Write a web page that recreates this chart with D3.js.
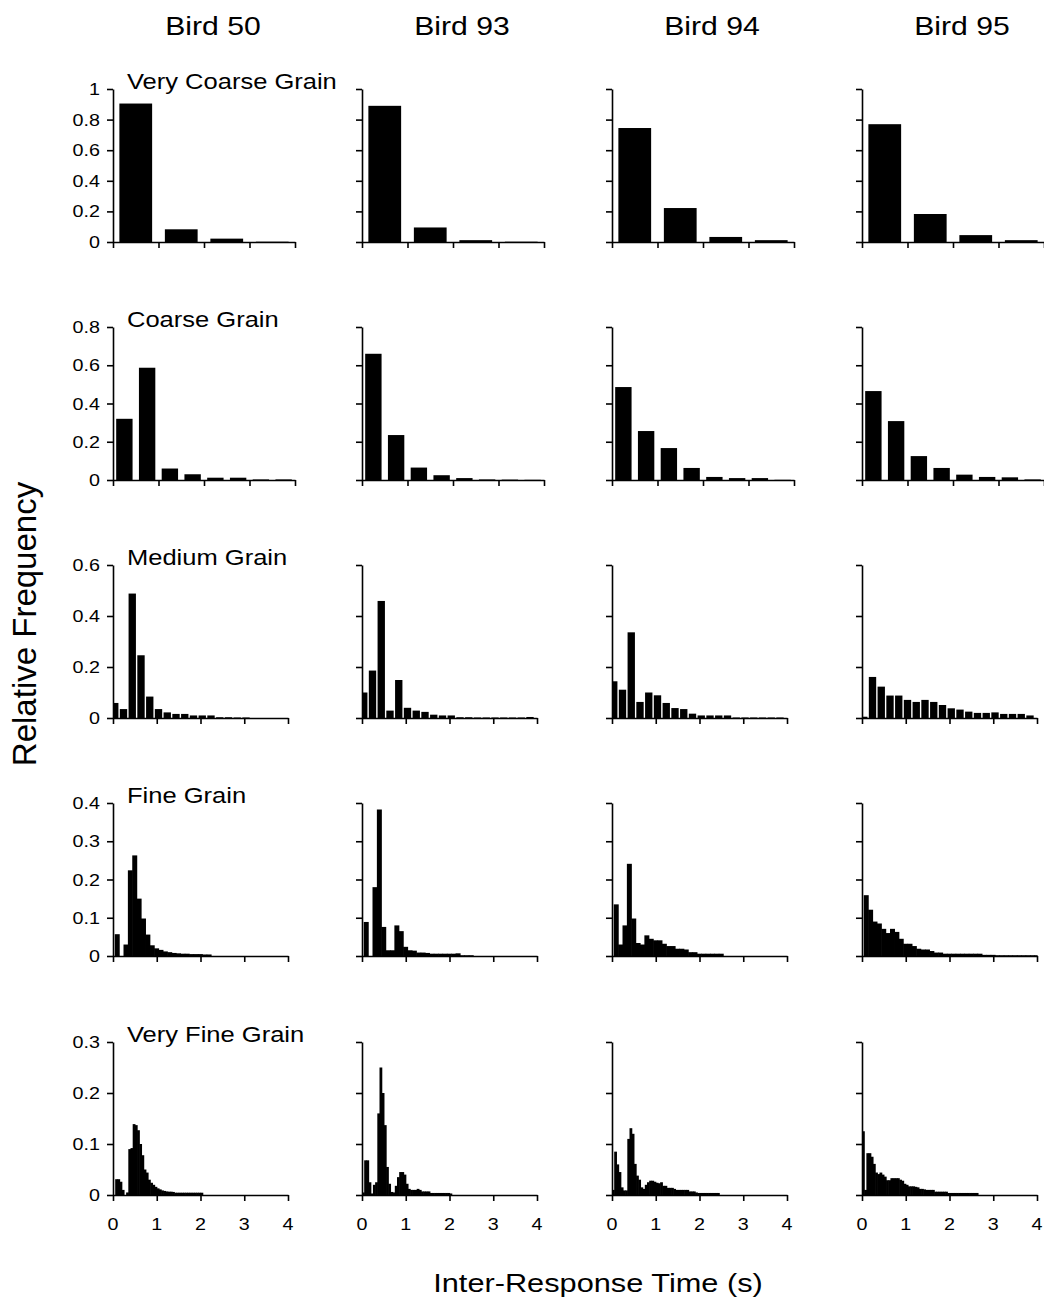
<!DOCTYPE html>
<html>
<head>
<meta charset="utf-8">
<script src="https://cdn.jsdelivr.net/npm/d3@7"></script>
<style>
  body { margin: 0; background: #fff; }
  svg { display: block; }
</style>
</head>
<body>
<script>
// ---- data -------------------------------------------------------------
const birds = ["Bird 50", "Bird 93", "Bird 94", "Bird 95"];
const grains = ["Very Coarse Grain", "Coarse Grain", "Medium Grain", "Fine Grain", "Very Fine Grain"];
const yMax = [1, 0.8, 0.6, 0.4, 0.3];
const yStep = [0.2, 0.2, 0.2, 0.1, 0.1];
const xTicks = [0, 1, 2, 3, 4];
// histogram bins (seconds): left edge of first bin and bin width per grain
const binStart = [0, 0, -0.06, 0.04, 0];
const binWidth = [1, 0.5, 0.2, 0.1, 0.05];

// relative frequencies, one array per bird (50, 93, 94, 95)
const veryCoarse = [
  [0.905, 0.083, 0.022, 0.002],
  [0.89, 0.095, 0.012, 0.002],
  [0.745, 0.222, 0.033, 0.012],
  [0.77, 0.183, 0.045, 0.012]
];
const coarse = [
  [0.32, 0.587, 0.06, 0.03, 0.012, 0.012, 0.003, 0.003],
  [0.66, 0.235, 0.065, 0.025, 0.01, 0.003, 0.002, 0.001],
  [0.486, 0.256, 0.167, 0.063, 0.016, 0.01, 0.01, 0.001],
  [0.465, 0.308, 0.125, 0.063, 0.028, 0.016, 0.014, 0.003]
];
const medium = [
  [0.059, 0.035, 0.488, 0.246, 0.084, 0.035, 0.022, 0.016, 0.016, 0.01, 0.01, 0.01, 0.003, 0.003, 0.002, 0.002],
  [0.10, 0.186, 0.459, 0.029, 0.149, 0.04, 0.029, 0.024, 0.013, 0.01, 0.01, 0.003, 0.003, 0.002, 0.002, 0.002, 0.002, 0.002, 0.002, 0.004],
  [0.144, 0.111, 0.336, 0.063, 0.10, 0.089, 0.059, 0.039, 0.035, 0.017, 0.01, 0.01, 0.01, 0.01, 0.002, 0.002, 0.002, 0.002, 0.002, 0.002],
  [0.005, 0.161, 0.123, 0.088, 0.088, 0.071, 0.063, 0.071, 0.063, 0.051, 0.038, 0.033, 0.025, 0.02, 0.02, 0.022, 0.016, 0.016, 0.016, 0.01]
];
const fine = [
  [0.057, 0, 0.03, 0.224, 0.263, 0.15, 0.098, 0.056, 0.028, 0.02, 0.016, 0.012, 0.01, 0.008, 0.007, 0.006, 0.006, 0.005, 0.005, 0.005, 0.004, 0.004],
  [0.089, 0, 0.18, 0.383, 0.076, 0.015, 0.015, 0.08, 0.065, 0.024, 0.015, 0.014, 0.009, 0.009, 0.008, 0.006, 0.006, 0.006, 0.006, 0.006, 0.006, 0.007, 0.002, 0.002, 0.002],
  [0.135, 0.03, 0.08, 0.241, 0.098, 0.034, 0.03, 0.054, 0.045, 0.041, 0.041, 0.032, 0.026, 0.026, 0.019, 0.019, 0.017, 0.01, 0.01, 0.006, 0.006, 0.006, 0.006, 0.006, 0.006],
  [0.159, 0.121, 0.09, 0.085, 0.071, 0.06, 0.071, 0.063, 0.045, 0.032, 0.032, 0.026, 0.019, 0.017, 0.017, 0.013, 0.009, 0.009, 0.006, 0.006, 0.006, 0.006, 0.006, 0.006, 0.006, 0.006, 0.006, 0.003, 0.003, 0.003, 0.002, 0.002, 0.002, 0.002, 0.002, 0.002, 0.002, 0.002, 0.002, 0.002]
];
const veryFine = [
  [0, 0.031, 0.031, 0.026, 0.01, 0, 0.005, 0.09, 0.092, 0.139, 0.137, 0.127, 0.1, 0.078, 0.05, 0.044, 0.03, 0.024, 0.02, 0.016, 0.013, 0.011, 0.009, 0.008, 0.007, 0.0065, 0.0065, 0.006, 0.0045, 0.0045, 0.0045, 0.0045, 0.0045, 0.0045, 0.0045, 0.0045, 0.0045, 0.0045, 0.0045, 0.0045, 0.0045],
  [0.005, 0.068, 0.068, 0.025, 0.003, 0.02, 0.025, 0.16, 0.25, 0.2, 0.137, 0.055, 0.022, 0.006, 0.005, 0.018, 0.035, 0.045, 0.045, 0.04, 0.022, 0.012, 0.01, 0.01, 0.01, 0.012, 0.01, 0.007, 0.007, 0.007, 0.007, 0.004, 0.004, 0.004, 0.004, 0.004, 0.004, 0.004, 0.004, 0.004, 0.003],
  [0.01, 0.085, 0.06, 0.045, 0.015, 0.009, 0.009, 0.11, 0.131, 0.12, 0.061, 0.038, 0.03, 0.015, 0.012, 0.02, 0.025, 0.028, 0.028, 0.026, 0.024, 0.023, 0.025, 0.018, 0.018, 0.014, 0.014, 0.014, 0.012, 0.01, 0.01, 0.01, 0.01, 0.01, 0.01, 0.007, 0.007, 0.007, 0.005, 0.004, 0.004, 0.004, 0.004, 0.004, 0.004, 0.004, 0.004, 0.004, 0.004],
  [0.125, 0.01, 0.082, 0.082, 0.075, 0.061, 0.044, 0.041, 0.044, 0.04, 0.036, 0.029, 0.029, 0.033, 0.033, 0.033, 0.033, 0.03, 0.028, 0.022, 0.02, 0.017, 0.017, 0.017, 0.016, 0.015, 0.012, 0.012, 0.011, 0.01, 0.01, 0.01, 0.01, 0.0065, 0.0065, 0.0065, 0.0065, 0.0065, 0.0065, 0.004, 0.004, 0.004, 0.004, 0.004, 0.004, 0.004, 0.004, 0.004, 0.004, 0.004, 0.004, 0.004, 0.004]
];
const rowData = [veryCoarse, coarse, medium, fine, veryFine];

// ---- layout -----------------------------------------------------------
const width = 1044, height = 1304;
const colX = [113, 362, 612, 862];          // x of each column's y axis
const rowBottom = [242, 480, 718, 956, 1195];
const rowWidth = [182, 182, 175, 175, 175];
const plotH = 153;
const barFill = [0.72, 0.72, 0.84, 1, 1];   // share of the bin a bar covers
const stretch = 1.16;                       // the scan's text is wider than Arial
const font = "'Liberation Sans', Arial, Helvetica, sans-serif";

const svg = d3.select("body").append("svg")
  .attr("width", width)
  .attr("height", height)
  .style("font-family", font);

svg.append("rect").attr("width", width).attr("height", height).attr("fill", "#fff");

// text drawn with a horizontal stretch to match the reference
function label(x, y, str, size, anchor = "start", vertical = false) {
  const t = vertical
    ? `translate(${x},${y}) rotate(-90)`
    : `translate(${x},${y}) scale(${stretch},1)`;
  svg.append("text")
    .attr("transform", t)
    .attr("text-anchor", anchor)
    .attr("font-size", size)
    .attr("fill", "#000")
    .text(str);
}

rowData.forEach((panels, ri) => {
  panels.forEach((vals, ci) => {
    const x = d3.scaleLinear().domain([0, 4]).range([colX[ci], colX[ci] + rowWidth[ri]]);
    const y = d3.scaleLinear().domain([0, yMax[ri]]).range([rowBottom[ri], rowBottom[ri] - plotH]);
    const g = svg.append("g");

    const pad = binWidth[ri] * (1 - barFill[ri]) / 2;
    const bars = vals.map((v, i) => {
      const lo = binStart[ri] + i * binWidth[ri] + pad;
      const hi = binStart[ri] + (i + 1) * binWidth[ri] - pad;
      return {v, lo: Math.max(0, lo), hi: Math.min(4, hi)};
    }).filter(d => d.v > 0 && d.hi > d.lo);

    const solid = barFill[ri] === 1 ? 0.6 : 0;  // overlap contiguous bins
    g.selectAll("rect")
      .data(bars)
      .join("rect")
      .attr("x", d => x(d.lo))
      .attr("width", d => x(d.hi) - x(d.lo) + solid)
      .attr("y", d => y(d.v))
      .attr("height", d => y(0) - y(d.v))
      .attr("fill", "#000");

    const yTicks = d3.range(0, Math.round(yMax[ri] / yStep[ri]) + 1).map(k => +(k * yStep[ri]).toFixed(2));

    g.append("g")
      .attr("transform", `translate(${colX[ci]},0)`)
      .call(d3.axisLeft(y).tickValues(yTicks).tickSize(6).tickSizeOuter(0).tickFormat(""))
      .call(a => a.selectAll("path, line").attr("stroke", "#000").attr("stroke-width", 1.6));

    g.append("g")
      .attr("transform", `translate(0,${rowBottom[ri]})`)
      .call(d3.axisBottom(x).tickValues(xTicks).tickSize(6).tickSizeOuter(0).tickFormat(""))
      .call(a => a.selectAll("path, line").attr("stroke", "#000").attr("stroke-width", 1.6));

    if (ci === 0) {
      yTicks.forEach(t => label(colX[0] - 13, y(t) + 6, String(t), 17, "end"));
    }
    if (ri === rowData.length - 1) {
      xTicks.forEach(t => label(x(t), rowBottom[ri] + 35, String(t), 17, "middle"));
    }
  });
  label(colX[0] + 14, rowBottom[ri] - plotH, grains[ri], 22, "start");
});

birds.forEach((b, ci) => label(colX[ci] + 100, 35, b, 26, "middle"));

label(598, 1292, "Inter-Response Time (s)", 26.5, "middle");
label(36, 624, "Relative Frequency", 33, "middle", true);
</script>
</body>
</html>
